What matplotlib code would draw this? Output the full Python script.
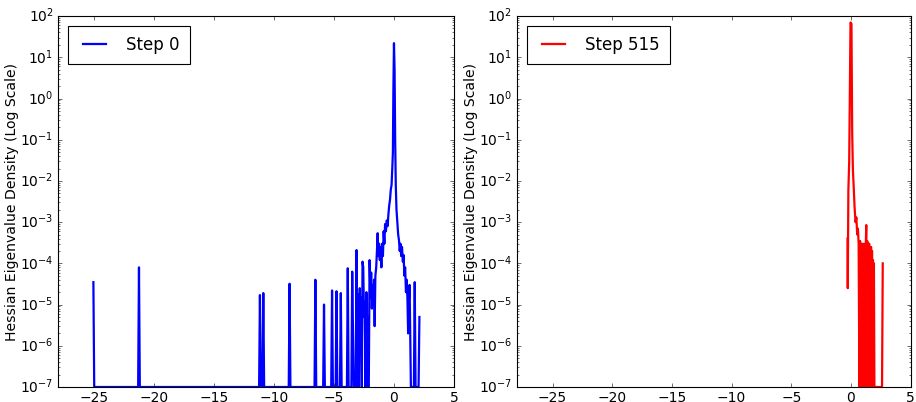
import numpy as np
import matplotlib
matplotlib.use('Agg')
import matplotlib.pyplot as plt

plt.style.use('classic')
plt.rcParams['font.size'] = 12.5

# eigenvalue grid points and density (1e-7 = empty bin floor)
eig_step0 = [-25.05, -24.98, -21.32, -21.25, -21.18, -11.24, -11.17, -11.10,
             -10.96, -10.89, -10.82, -8.77, -8.70, -8.63, -6.62, -6.55, -6.48,
             -5.90, -5.83, -5.76, -5.23, -5.16, -5.09, -4.86, -4.79, -4.72,
             -4.50, -4.43, -4.36, -3.92, -3.85, -3.78, -3.55, -3.48, -3.42,
             -3.35, -3.19, -3.12, -3.05, -2.98, -2.92, -2.85, -2.80, -2.74,
             -2.68, -2.62, -2.56, -2.50, -2.44, -2.37, -2.30, -2.23, -2.17,
             -2.10, -2.03, -1.96, -1.90, -1.84, -1.78, -1.72, -1.66, -1.61,
             -1.55, -1.48, -1.42, -1.36, -1.30, -1.24, -1.18, -1.12, -1.05,
             -0.98, -0.92, -0.86, -0.80, -0.74, -0.67, -0.60, -0.53, -0.46,
             -0.40, -0.33, -0.27, -0.20, -0.14, -0.09, -0.05, 0.00, 0.05,
             0.10, 0.15, 0.21, 0.28, 0.35, 0.42, 0.48, 0.54, 0.60, 0.67,
             0.74, 0.80, 0.87, 0.93, 1.00, 1.06, 1.12, 1.18, 1.24, 1.30,
             1.36, 1.41, 1.66, 1.73, 1.80, 2.05, 2.12]
dens_step0 = [3.5e-5, 1e-7, 1e-7, 8e-5, 1e-7, 1e-7, 1.7e-5, 1e-7,
              1e-7, 1.9e-5, 1e-7, 1e-7, 3.2e-5, 1e-7, 1e-7, 4e-5, 1e-7,
              1e-7, 1e-5, 1e-7, 1e-7, 2.2e-5, 1e-7, 1e-7, 2.1e-5, 1e-7,
              1e-7, 1.9e-5, 1e-7, 1e-7, 7.6e-5, 1e-7, 1e-7, 6.3e-5, 3e-6,
              1e-7, 1e-7, 2.1e-4, 1e-7, 1.8e-5, 1e-7, 2.5e-5, 2e-6, 1.5e-5,
              1e-7, 1.1e-4, 8e-5, 5e-6, 1.2e-5, 1e-7, 2e-5, 3e-6, 1e-7,
              1e-7, 1.2e-4, 1.5e-5, 6e-5, 8e-6, 3e-5, 1e-5, 4e-5, 3e-6,
              5e-5, 8e-5, 2e-4, 5.4e-4, 1.5e-4, 3e-4, 1.2e-4, 2.5e-4, 8e-5,
              3e-4, 1.5e-4, 6e-4, 3e-4, 9e-4, 6e-4, 1.1e-3, 8e-4, 1.6e-3,
              2.5e-3, 3.5e-3, 6e-3, 8e-3, 2e-2, 5e-2, 1.5, 22.0, 5.0,
              0.1, 8e-3, 2e-3, 1e-3, 5e-4, 3.6e-4, 2e-4, 3e-4, 1.5e-4, 2.5e-4,
              1.1e-4, 1.6e-4, 5e-5, 8e-5, 2e-5, 4e-5, 1.5e-5, 2e-6, 1.2e-5, 3e-5,
              1.5e-6, 1e-7, 1e-7, 3.5e-5, 1e-7, 1e-7, 5e-6]

eig_step515 = [-0.29, -0.27, -0.22, -0.15, -0.04, 0.04, 0.10, 0.16, 0.22,
               0.30, 0.38, 0.45, 0.52, 0.58, 0.64, 0.68, 0.72, 0.76, 0.80,
               0.84, 0.88, 0.92, 0.96, 1.00, 1.04, 1.08, 1.12, 1.16, 1.20,
               1.24, 1.28, 1.32, 1.36, 1.40, 1.44, 1.48, 1.52, 1.56, 1.60,
               1.64, 1.68, 1.72, 1.76, 1.80, 1.84, 1.88, 1.92, 1.96, 2.10,
               2.60, 2.66]
dens_step515 = [4e-4, 2.5e-5, 6e-3, 3e-2, 70.0, 65.0, 0.15, 1.8e-2, 8e-3,
                2.3e-3, 1e-3, 1.3e-3, 5e-4, 7e-4, 3e-4, 2e-6, 1e-7, 3.5e-4, 1e-7,
                2.8e-4, 1e-7, 3e-4, 1e-6, 2.5e-4, 1e-7, 3e-4, 1e-7, 2.8e-4, 1e-7,
                3e-4, 8.5e-4, 1e-7, 3.5e-4, 1e-6, 3e-4, 1e-7, 3e-4, 1e-7, 2.5e-4,
                1e-7, 2.5e-4, 1e-7, 2e-4, 1e-7, 1.2e-4, 1e-7, 1e-4, 1e-7, 1e-7,
                1e-7, 1e-4]

fig = plt.figure(figsize=(11.45, 5.025), dpi=80, facecolor='w')
ax1 = fig.add_axes([0.0633, 0.0373, 0.4323, 0.9227])
ax2 = fig.add_axes([0.5641, 0.0373, 0.4301, 0.9227])

for ax, x, y, c, lab in [(ax1, eig_step0, dens_step0, 'b', 'Step 0'),
                         (ax2, eig_step515, dens_step515, 'r', 'Step 515')]:
    ax.semilogy(x, y, color=c, lw=2, label=lab)
    ax.set_xlim(-28, 5)
    ax.set_ylim(1e-7, 1e2)
    ax.set_xticks([-25, -20, -15, -10, -5, 0, 5])
    ax.set_ylabel('Hessian Eigenvalue Density (Log Scale)', fontsize=12.6, labelpad=1)
    ax.legend(loc='upper left', fontsize=15, borderpad=0.6, handletextpad=0.9,
              handlelength=2.0, borderaxespad=0.6)

fig.savefig('out.png', dpi=80, facecolor='w')
